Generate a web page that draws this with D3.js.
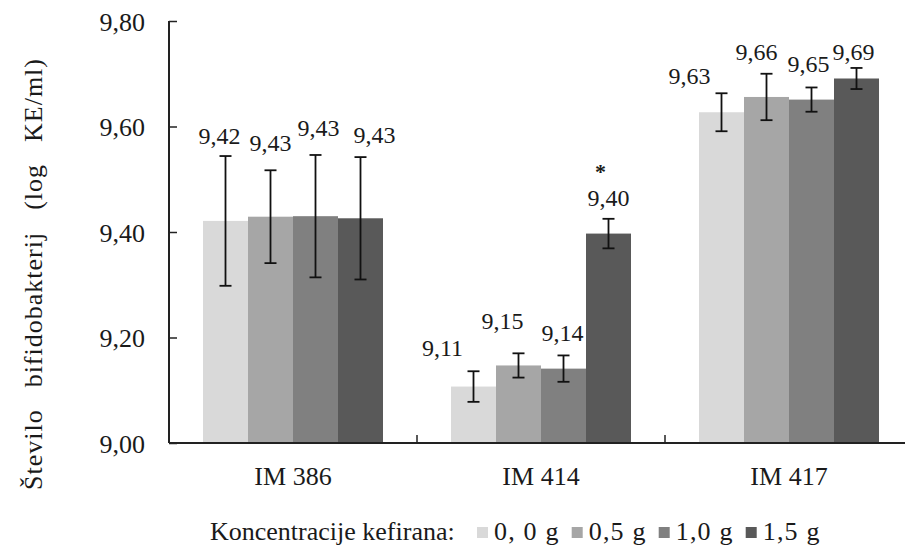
<!DOCTYPE html>
<html>
<head>
<meta charset="utf-8">
<script src="https://cdn.jsdelivr.net/npm/d3@7/dist/d3.min.js"></script>
<style>
  html, body { margin: 0; padding: 0; background: #fff; }
  svg { display: block; }
</style>
</head>
<body>
<svg id="chart" width="905" height="545"></svg>
<script>
// ---- data ----
const categories = ["IM 386", "IM 414", "IM 417"];
const seriesNames = ["0, 0 g", "0,5 g", "1,0 g", "1,5 g"];
const values = [
  [9.421, 9.429, 9.430, 9.426],   // IM 386
  [9.107, 9.147, 9.141, 9.397],   // IM 414
  [9.627, 9.656, 9.651, 9.691]    // IM 417
];
const errors = [
  [0.123, 0.088, 0.116, 0.116],
  [0.029, 0.023, 0.025, 0.028],
  [0.036, 0.044, 0.023, 0.020]
];
const significant = [
  [false, false, false, false],
  [false, false, false, true],
  [false, false, false, false]
];
const yTicks = [9.0, 9.2, 9.4, 9.6, 9.8];
const yTitle = "Število bifidobakterij (log KE/ml)";
const legendTitle = "Koncentracije kefirana:";

// ---- layout (not data) ----
const FONT = "'Liberation Serif', 'Times New Roman', Times, serif";
const INK = "#1a1a1a";
const colors = ["#d9d9d9", "#a6a6a6", "#808080", "#595959"];
// manual label nudges [dx, dy] relative to bar centre / error-bar top
const labelNudge = [
  [[-6, -12], [0, -19], [3, -19], [14, -14]],
  [[-31, -15], [-16, -24], [-1, -14], [0, -13]],
  [[-32, -9], [-10, -14], [-3, -15], [-3, -8]]
];

const svg = d3.select("#chart");
const M = { left: 169, right: 913, top: 21, bottom: 443 };

function txt(parent, size) {
  return parent.append("text").style("font-family", FONT).attr("font-size", size).attr("fill", INK);
}

const x = d3.scaleBand().domain(categories).range([M.left, M.right]).paddingInner(0).paddingOuter(0);
const groupW = 180;
const xs = d3.scaleBand().domain(d3.range(seriesNames.length)).range([-groupW / 2, groupW / 2]).padding(0);
const y = d3.scaleLinear().domain([9.0, 9.8]).range([M.bottom, M.top]);
const fmt = v => v.toFixed(2).replace(".", ",");

// bars
const g = svg.append("g");
categories.forEach((c, ci) => {
  const cx = x(c) + x.bandwidth() / 2;
  values[ci].forEach((v, si) => {
    g.append("rect")
      .attr("x", cx + xs(si))
      .attr("y", y(v))
      .attr("width", xs.bandwidth())
      .attr("height", y(9.0) - y(v))
      .attr("fill", colors[si]);
  });
});

// y axis
const yAxis = d3.axisLeft(y).tickValues(yTicks).tickSize(-8).tickPadding(24).tickFormat(fmt);
const ya = svg.append("g").attr("transform", `translate(${M.left},0)`).call(yAxis);
ya.attr("font-family", null);
ya.select(".domain").attr("d", `M0,${M.top}H0V${M.bottom}`).attr("stroke", "#222").attr("stroke-width", 2);
ya.selectAll(".tick line").attr("stroke", "#222").attr("stroke-width", 1.5);
ya.selectAll(".tick text").style("font-family", FONT).attr("font-size", 26).attr("fill", INK).attr("dy", "0.36em");

// x axis line
svg.append("line").attr("x1", M.left).attr("x2", 905).attr("y1", M.bottom).attr("y2", M.bottom)
  .attr("stroke", "#222").attr("stroke-width", 2);
// category separator ticks
categories.slice(1).forEach(c => {
  svg.append("line").attr("x1", x(c)).attr("x2", x(c)).attr("y1", M.bottom).attr("y2", M.bottom - 8)
    .attr("stroke", "#222").attr("stroke-width", 1.5);
});
// category labels
categories.forEach(c => {
  txt(svg, 26).attr("x", x(c) + x.bandwidth() / 2).attr("y", 485)
    .attr("text-anchor", "middle").text(c);
});

// error bars + labels
const cap = 6;
categories.forEach((c, ci) => {
  const cx = x(c) + x.bandwidth() / 2;
  values[ci].forEach((v, si) => {
    const bx = cx + xs(si) + xs.bandwidth() / 2;
    const e = errors[ci][si];
    const yTop = y(v + e), yBot = y(v - e);
    const eg = svg.append("g").attr("stroke", "#111").attr("stroke-width", 1.8);
    eg.append("line").attr("x1", bx).attr("x2", bx).attr("y1", yTop).attr("y2", yBot);
    eg.append("line").attr("x1", bx - cap).attr("x2", bx + cap).attr("y1", yTop).attr("y2", yTop);
    eg.append("line").attr("x1", bx - cap).attr("x2", bx + cap).attr("y1", yBot).attr("y2", yBot);
    const [dx, dy] = labelNudge[ci][si];
    txt(svg, 24).attr("x", bx + dx).attr("y", yTop + dy)
      .attr("text-anchor", "middle").text(fmt(v));
    if (significant[ci][si]) {
      txt(svg, 22).attr("x", bx + dx - 8).attr("y", yTop + dy - 26.5)
        .attr("text-anchor", "middle").attr("font-weight", "bold").text("*");
    }
  });
});

// y axis title
const yTitleEl = txt(svg, 26)
  .attr("transform", `translate(42,${(58 + 490) / 2}) rotate(-90)`)
  .attr("text-anchor", "middle").attr("letter-spacing", 1).text(yTitle);
const len = yTitleEl.node().getComputedTextLength();
const gaps = yTitle.split(" ").length - 1;
yTitleEl.style("word-spacing", `${Math.max(0, (432 - len) / gaps)}px`);

// legend
const lg = svg.append("g");
txt(lg, 26).attr("x", 210).attr("y", 540).text(legendTitle);
let lx = 477;
seriesNames.forEach((s, i) => {
  lg.append("rect").attr("x", lx).attr("y", 527).attr("width", 11).attr("height", 11).attr("fill", colors[i]);
  const t = txt(lg, 26).attr("x", lx + 17).attr("y", 540).attr("letter-spacing", 1.2).text(s);
  lx += 17 + t.node().getComputedTextLength() + 12;
});
</script>
</body>
</html>
